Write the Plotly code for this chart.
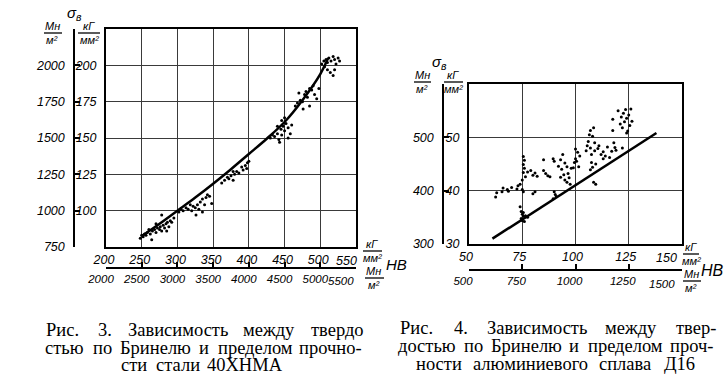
import plotly.graph_objects as go

W, H = 728, 391

# ---------------- Fig. 3 : steel 40ХНМА ----------------
steel_hb = [248, 250, 252, 254, 256, 258, 262, 265, 268, 270, 272, 275, 276, 278, 280, 282, 284, 286, 288, 290,
            292, 278, 270, 260, 295, 264, 285,
            302, 305, 308, 312, 315, 318, 320, 322, 325, 328, 330, 332, 335, 338, 340, 342, 345, 335, 348, 326,
            362, 366, 370, 372, 375, 378, 380, 383, 386, 390, 392, 395, 398, 400, 397, 378,
            430, 433, 436, 440, 442, 445, 446, 448, 450, 452, 455, 458, 446, 450, 440, 455, 443, 460,
            465, 468, 472, 475, 478, 480, 482, 485, 488, 490, 492, 495, 498, 470, 476, 485,
            502, 505, 508, 510, 512, 515, 518, 520, 522, 525, 510, 514, 518, 520, 506, 527]
steel_sigma = [81, 83, 82, 84, 83, 85, 84, 86, 87, 85, 88, 87, 89, 86, 90, 88, 91, 92, 89, 93,
               92, 97, 91, 87, 95, 80, 86,
               99, 101, 100, 102, 101, 104, 100, 103, 102, 104, 101, 106, 108, 104, 109, 111, 110, 99, 105, 97,
               119, 121, 123, 122, 124, 121, 125, 127, 126, 130, 128, 131, 133, 134, 129, 127,
               150, 152, 151, 153, 149, 156, 152, 158, 155, 160, 157, 153, 162, 164, 158, 150, 147, 159,
               172, 174, 176, 175, 180, 182, 178, 184, 183, 186, 180, 177, 184, 181, 170, 172,
               201, 203, 204, 202, 205, 203, 206, 204, 201, 205, 197, 195, 193, 197, 199, 203]
steel_curve_hb = [250, 275, 300, 325, 350, 375, 400, 425, 450, 475, 500, 511]
steel_curve_sigma = [82.5, 91, 100, 109, 118.5, 128.5, 139, 149.5, 161, 176, 194, 205]
steel_x_ticks = [200, 250, 300, 350, 400, 450, 500, 550]
steel_x_ticks_mn = [2000, 2500, 3000, 3500, 4000, 4500, 5000, 5500]
steel_y_ticks = [100, 125, 150, 175, 200]
steel_y_ticks_mn = [750, 1000, 1250, 1500, 1750, 2000]

# ---------------- Fig. 4 : aluminium alloy Д16 ----------------
alu_hb = [62.5, 63, 65.5, 66, 68, 68.5, 70,
          72.5, 73, 74, 75, 75.5, 74.5, 75, 75.5, 74.5, 75, 75.5, 76, 76.5, 77.5, 74,
          75.5, 76, 75.5, 76, 75.5, 76.5, 75,
          77.5, 79, 80, 81, 82, 80, 81, 85, 85, 87, 88, 86,
          89.5, 90, 90, 90.5, 89.5, 91, 92, 93, 93.5, 94, 94.5, 95, 95, 96, 96, 96.5, 97, 97.5, 98, 93,
          99, 99.5, 100, 100.5, 101, 101.5, 102, 100,
          105, 105.5, 106, 106.5, 107, 107, 107.5, 107.5, 108, 108, 108.5, 109, 109, 109.5, 108.5, 109.5, 107,
          110.5, 111, 112, 113, 114, 115, 116, 117, 118, 118.5, 119,
          117.5, 117.5, 120, 121, 121.5, 122, 122.5, 123, 123.5, 124, 124.5, 125, 125.5, 126, 126.5, 124,
          122, 113]
alu_sigma = [38.8, 39.6, 39.8, 40.5, 40.2, 39.9, 40.6,
             40.3, 40.9, 41.2, 40.2, 39.8, 36.1, 35.6, 35.2, 34.8, 34.4, 35.9, 34.2, 35.3, 35.0, 37.0,
             46.4, 45.7, 44.9, 44.2, 43.4, 42.6, 42.0,
             43.5, 43.8, 42.9, 43.3, 42.7, 39.4, 39.8, 45.8, 43.8, 42.8, 42.6, 43.2,
             46.0, 45.5, 39.8, 39.3, 38.5, 38.9, 44.6, 45.8, 44.0, 46.8, 43.0, 45.2, 42.0, 44.5, 41.6, 43.2, 42.4,
             41.2, 44.2, 42.5,
             44.3, 45.3, 46.0, 45.5, 47.2, 44.5, 46.5, 47.8,
             47.5, 48.4, 49.2, 50.5, 51.3, 48.0, 46.8, 45.3, 44.4, 50.2, 51.8, 49.0, 47.5, 45.0, 41.6, 41.2, 43.9,
             47.9, 48.4, 46.8, 47.3, 46.5, 48.2, 46.2, 47.4, 49.0, 48.1, 47.6,
             53.4, 51.3, 55.0, 52.5, 53.8, 51.8, 54.5, 52.9, 55.2, 53.6, 51.2, 54.2, 52.2, 55.3, 53.0, 50.8,
             48.0, 46.0]
alu_line_hb = [61, 138]
alu_line_sigma = [31, 50.8]
alu_x_ticks = [50, 75, 100, 125, 150]
alu_x_ticks_mn = [500, 750, 1000, 1250, 1500]
alu_y_ticks = [30, 40, 50]
alu_y_ticks_mn = [300, 400, 500]

caption_left = ["Рис. 3. Зависимость между твердо",
                "стью по Бринелю и пределом прочно-",
                "сти стали 40ХНМА"]
caption_right = ["Рис. 4. Зависимость между твер-",
                 "достью по Бринелю и пределом проч-",
                 "ности алюминиевого сплава Д16"]


def px(x):
    return x / W


def py(y):
    return 1 - y / H


def labels(vals, blank_last=False):
    t = [str(v) for v in vals]
    if blank_last:
        t[-1] = ""
    return t


LBL_FONT = "Liberation Sans Narrow, Liberation Sans, Arial, sans-serif"
tickfont = dict(family=LBL_FONT, size=12.5, color="black", style="italic")
tickfont_small = dict(family=LBL_FONT, size=11.5, color="black", style="italic")
GRID = "#3a3a3a"

fig = go.Figure()

mk = dict(size=3, color="black")
fig.add_trace(go.Scatter(x=steel_hb, y=steel_sigma, mode="markers", marker=mk, xaxis="x", yaxis="y",
                         hoverinfo="skip"))
fig.add_trace(go.Scatter(x=steel_curve_hb, y=steel_curve_sigma, mode="lines",
                         line=dict(color="black", width=2.5, shape="spline"), xaxis="x", yaxis="y"))
fig.add_trace(go.Scatter(x=alu_hb, y=alu_sigma, mode="markers", marker=mk, xaxis="x2", yaxis="y2",
                         hoverinfo="skip"))
fig.add_trace(go.Scatter(x=alu_line_hb, y=alu_line_sigma, mode="lines",
                         line=dict(color="black", width=2.5), xaxis="x2", yaxis="y2"))
# carrier traces for the secondary (Мн/м²) scales
fig.add_trace(go.Scatter(x=[], y=[], xaxis="x3", yaxis="y3", showlegend=False))
fig.add_trace(go.Scatter(x=[], y=[], xaxis="x4", yaxis="y4", showlegend=False))

main_ax = dict(showgrid=True, gridcolor=GRID, gridwidth=1.2, showline=True, mirror=True, linecolor="black",
               linewidth=2, ticks="", zeroline=False, tickfont=tickfont, fixedrange=True, automargin=False,
               tickmode="array", tickangle=0)
sec_ax = dict(showgrid=False, showline=True, linecolor="black", linewidth=1.5, ticks="inside", ticklen=5,
              tickcolor="black", tickwidth=1.5, zeroline=False, tickfont=tickfont, fixedrange=True,
              automargin=False, tickmode="array", tickangle=0)

fig.update_layout(
    template="none",
    width=W, height=H, margin=dict(l=0, r=0, t=0, b=0, autoexpand=False),
    paper_bgcolor="white", plot_bgcolor="white", showlegend=False,
    xaxis=dict(main_ax, domain=[px(106), px(356)], range=[200, 550], tickvals=steel_x_ticks,
               ticktext=labels(steel_x_ticks, True), anchor="y", ticklabelstandoff=0, ticklabelshift=-2),
    yaxis=dict(main_ax, domain=[py(247), py(29)], range=[75, 225], tickvals=steel_y_ticks,
               ticktext=labels(steel_y_ticks), anchor="x", ticklabelstandoff=5),
    xaxis3=dict(sec_ax, overlaying="x", anchor="free", position=py(268), side="bottom",
                range=[2000, 5500], tickvals=steel_x_ticks_mn, ticktext=labels(steel_x_ticks_mn, True),
                ticklabelstandoff=0, ticklabelshift=-5, tickfont=tickfont_small),
    yaxis3=dict(sec_ax, overlaying="y", anchor="free", position=px(74), side="left",
                range=[750, 2250], tickvals=steel_y_ticks_mn, ticktext=labels(steel_y_ticks_mn),
                ticklabelstandoff=6),
    xaxis2=dict(main_ax, domain=[px(469), px(682)], range=[50, 150], tickvals=alu_x_ticks,
                ticktext=labels(alu_x_ticks, True), anchor="y2", ticklabelstandoff=0, ticklabelshift=-3),
    yaxis2=dict(main_ax, domain=[py(244), py(84)], range=[30, 60], tickvals=alu_y_ticks,
                ticktext=labels(alu_y_ticks), anchor="x2", ticklabelstandoff=5),
    xaxis4=dict(sec_ax, overlaying="x2", anchor="free", position=py(270), side="bottom",
                range=[500, 1500], tickvals=alu_x_ticks_mn, ticktext=labels(alu_x_ticks_mn, True),
                ticklabelstandoff=0, ticklabelshift=-6, tickfont=tickfont_small),
    yaxis4=dict(sec_ax, overlaying="y2", anchor="free", position=px(443), side="left",
                range=[300, 600], tickvals=alu_y_ticks_mn, ticktext=labels(alu_y_ticks_mn),
                ticklabelstandoff=6),
)

annotations = []
shapes = []


def text(x, y, s, size=13, family=LBL_FONT, style="italic", anchor="center"):
    annotations.append(dict(x=px(x), y=py(y), xref="paper", yref="paper", text=s, showarrow=False,
                            xanchor=anchor, yanchor="middle", borderpad=0,
                            font=dict(family=family, size=size, color="black", style=style)))


def end_label(xref, vals, y, shift, font):
    # last tick label of a scale, nudged left as in the original drawing
    annotations.append(dict(x=vals[-1], xref=xref, y=py(y), yref="paper", text=str(vals[-1]),
                            xshift=shift, showarrow=False, xanchor="center", yanchor="middle",
                            borderpad=0, font=font))


def frac(cx, y_line, x0, x1, num, den, size=11):
    text(cx, y_line - 7, num, size)
    text(cx, y_line + 7, den, size)
    shapes.append(dict(type="line", xref="paper", yref="paper", x0=px(x0), x1=px(x1),
                       y0=py(y_line), y1=py(y_line), line=dict(color="black", width=1.3)))


end_label("x", steel_x_ticks, 261, -10, tickfont)
end_label("x3", steel_x_ticks_mn, 281, -15, tickfont_small)
end_label("x2", alu_x_ticks, 258, -16, tickfont)
end_label("x4", alu_x_ticks_mn, 284, -20, tickfont_small)

# Fig. 3 axis labels
text(74, 14, "σ<sub>в</sub>", 15)
frac(52, 33, 44, 62, "Мн", "м²")
frac(89, 33, 78, 100, "кГ", "мм²")
frac(372, 251, 363, 382, "кГ", "мм²")
frac(374, 278, 365, 384, "Мн", "м²")
text(397, 264, "НВ", 15)

# Fig. 4 axis labels
text(439, 62, "σ<sub>в</sub>", 15)
frac(422, 82, 414, 431, "Мн", "м²")
frac(453, 82, 444, 463, "кГ", "мм²")
frac(691, 254, 683, 699, "кГ", "мм²")
frac(691, 281, 683, 701, "Мн", "м²")
text(712, 270, "НВ", 16)

# Captions (justified word placement)
CAP_FONT = "Liberation Serif, DejaVu Serif, serif"
CAP_SIZE = 18.5
em = {'а': .444, 'б': .5, 'в': .472, 'г': .41, 'д': .5, 'е': .444, 'ж': .69, 'з': .395, 'и': .535, 'й': .535,
      'к': .486, 'л': .5, 'м': .635, 'н': .535, 'о': .5, 'п': .535, 'р': .5, 'с': .444, 'т': .437, 'у': .5,
      'ф': .65, 'х': .5, 'ц': .535, 'ч': .5, 'ш': .77, 'щ': .77, 'ь': .46, 'ы': .7, 'ю': .7, 'я': .48,
      'Р': .556, 'З': .5, 'Б': .556, 'Д': .6, 'Х': .72, 'Н': .72, 'М': .89, 'А': .72, '.': .25, '-': .333}


def wwidth(w):
    return sum(em.get(c, .5) for c in w) * CAP_SIZE * 0.93


def justify(line, x0, x1, y):
    words = line.split(" ")
    widths = [wwidth(w) for w in words]
    gap = (x1 - x0 - sum(widths)) / max(len(words) - 1, 1)
    x = x0
    for w, wd in zip(words, widths):
        text(x + wd / 2, y, w, CAP_SIZE, CAP_FONT, "normal")
        x += wd + gap


justify(caption_left[0], 47, 362, 330)
justify(caption_left[1], 47, 360, 348)
justify(caption_left[2], 122, 280, 365)
justify(caption_right[0], 401, 715, 328)
justify(caption_right[1], 401, 712, 346)
justify(caption_right[2], 418, 693, 364)

fig.update_layout(annotations=annotations, shapes=shapes)
fig.write_html("out.html", config={"displayModeBar": False},
               post_script="document.body.style.margin='0';document.body.style.overflow='hidden';")
